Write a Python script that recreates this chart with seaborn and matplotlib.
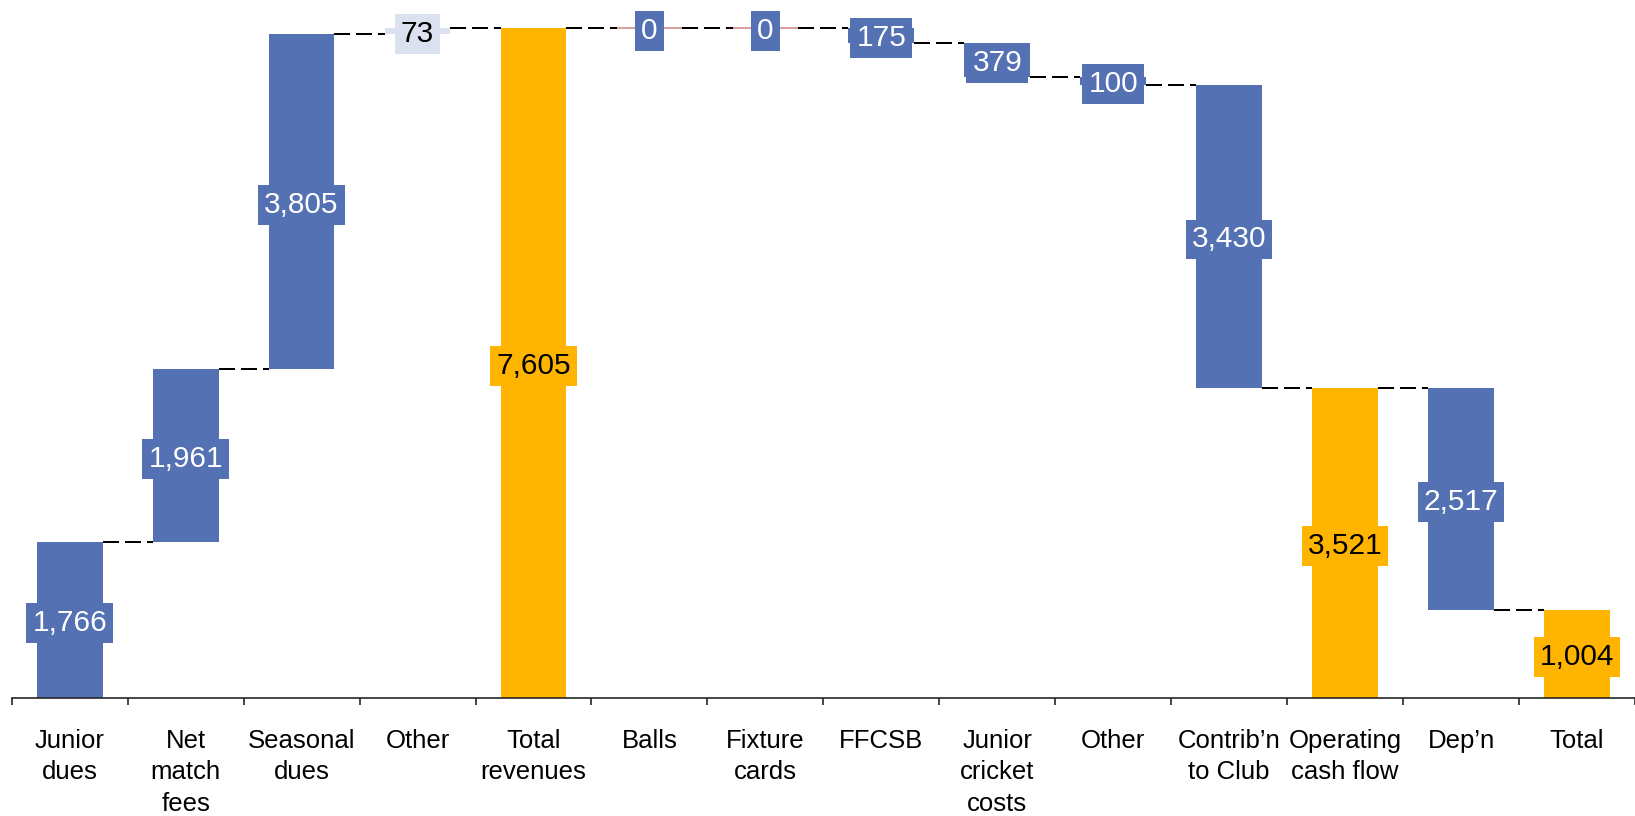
import numpy as np
import pandas as pd
import matplotlib
matplotlib.use("Agg")
import matplotlib.pyplot as plt
import seaborn as sns

# ---- data ----
categories = ["Junior\ndues", "Net\nmatch\nfees", "Seasonal\ndues", "Other",
              "Total\nrevenues", "Balls", "Fixture\ncards", "FFCSB",
              "Junior\ncricket\ncosts", "Other", "Contrib’n\nto Club",
              "Operating\ncash flow", "Dep’n", "Total"]
values = [1766, 1961, 3805, 73, 7605, 0, 0, 175, 379, 100, 3430, 3521, 2517, 1004]
kinds = ["up", "up", "up", "up", "total", "down", "down", "down", "down",
         "down", "down", "total", "down", "total"]
highlight = [False, False, False, True, False, False, False, False, False,
             False, False, False, False, False]

# ---- styles ----
BLUE = "#5471B3"
ORANGE = "#FFB400"
LAVENDER = "#DCE1F0"
ZERO_RED = "#D9A0A0"
BAR_W = 0.567

sns.set_style("white")
plt.rcParams["font.family"] = ["Liberation Sans", "DejaVu Sans"]

# waterfall geometry derived from data
bottoms, tops, levels = [], [], []
level = 0
for v, k in zip(values, kinds):
    if k == "up":
        b, t = level, level + v
        level = t
    elif k == "down":
        b, t = level - v, level
        level = b
    else:
        b, t = 0, v
        level = v
    bottoms.append(b)
    tops.append(t)
    levels.append(level)

df = pd.DataFrame({"pos": np.arange(len(values)), "top": tops})

fig = plt.figure(figsize=(16.35, 8.16), dpi=100)
ax = fig.add_axes([0.00716, 0.1446, 0.99284, 0.8554])

sns.barplot(data=df, x="pos", y="top", width=BAR_W, color=BLUE,
            saturation=1, errorbar=None, linewidth=0, ax=ax)

face_colors, text_colors = [], []
for k, h in zip(kinds, highlight):
    if k == "total":
        face_colors.append(ORANGE); text_colors.append("black")
    elif h:
        face_colors.append(LAVENDER); text_colors.append("black")
    else:
        face_colors.append(BLUE); text_colors.append("white")

for i, p in enumerate(ax.patches):
    p.set_y(bottoms[i])
    p.set_height(tops[i] - bottoms[i])
    p.set_facecolor(face_colors[i])
    if values[i] == 0:
        p.set_edgecolor(ZERO_RED)
        p.set_linewidth(1.5)

# connectors
for i in range(len(values) - 1):
    ax.plot([i + BAR_W / 2, i + 1 - BAR_W / 2], [levels[i], levels[i]],
            color="black", lw=1.44, ls=(0, (8, 3)), zorder=1.5,
            solid_capstyle="butt", dash_capstyle="butt")

# value labels
for i, v in enumerate(values):
    mid = (bottoms[i] + tops[i]) / 2
    ax.text(i, mid, f"{v:,}", ha="center", va="center_baseline", fontsize=21.5,
            color=text_colors[i], zorder=5,
            bbox=dict(boxstyle="square,pad=0.2", fc=face_colors[i], ec="none"))

ax.set_xlim(-0.5, len(values) - 0.5)
ax.set_ylim(0, 7919)
ax.set_xticks(np.arange(len(values)))
ax.set_xticklabels(categories, fontsize=18.5, linespacing=1.4)
ax.set_xticks(np.arange(len(values) + 1) - 0.5, minor=True)
ax.tick_params(axis="x", which="major", length=0, pad=22, colors="black")
ax.tick_params(axis="x", which="minor", length=5, width=1.2, color="#262626",
               direction="out", bottom=True)
ax.set_yticks([])
ax.set_xlabel("")
ax.set_ylabel("")
for s in ["left", "top", "right"]:
    ax.spines[s].set_visible(False)
ax.spines["bottom"].set_color("#262626")
ax.spines["bottom"].set_linewidth(1.2)
ax.spines["bottom"].set_zorder(6)

fig.savefig("out.png", dpi=100)
